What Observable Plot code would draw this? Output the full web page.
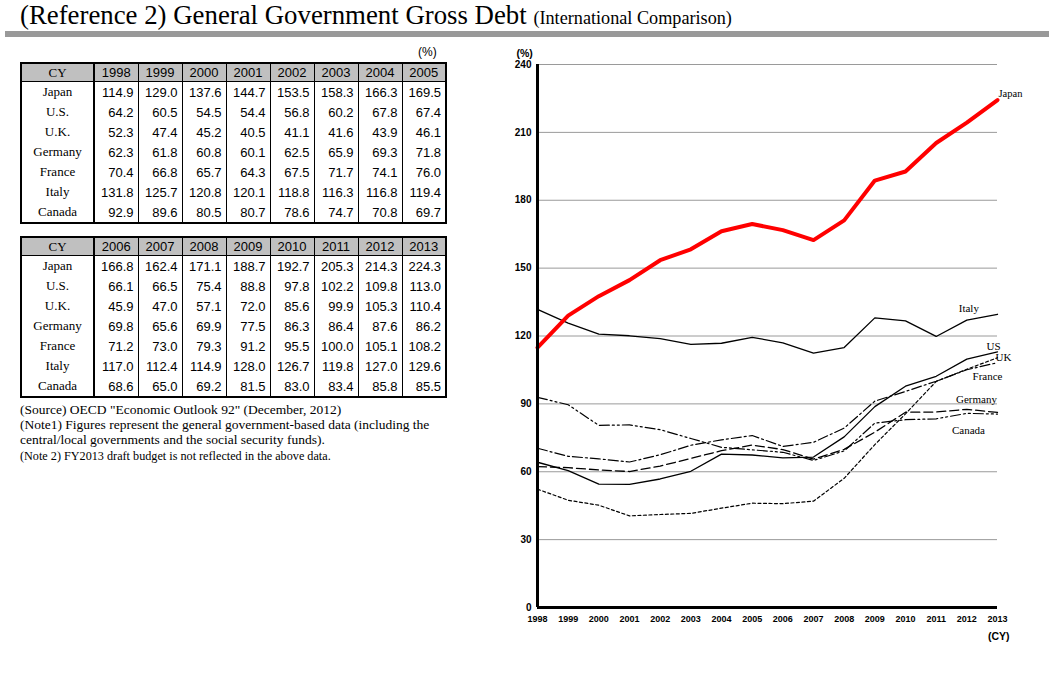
<!DOCTYPE html>
<html><head><meta charset="utf-8">
<script src="https://cdn.jsdelivr.net/npm/d3@7"></script>
<script src="https://cdn.jsdelivr.net/npm/@observablehq/plot@0.6"></script>
<style>
html,body{margin:0;padding:0;background:#fff;}
#page{position:relative;width:1049px;height:677px;overflow:hidden;}
#title{position:absolute;left:20px;top:0px;font-family:"Liberation Serif","Times New Roman",serif;font-size:26.8px;line-height:31px;white-space:nowrap;color:#000;}
#title span{font-size:18.2px;}
#bar{position:absolute;left:5px;top:31px;width:1044px;height:6px;background:#999;}
.pct{position:absolute;font-family:"Liberation Sans",Arial,sans-serif;font-size:12px;}
table.t{position:absolute;left:20px;border-collapse:collapse;table-layout:fixed;border:2px solid #000;}
table.t td,table.t th{padding:0 4px 0 0;font-family:"Liberation Sans",Arial,sans-serif;font-size:13px;font-weight:normal;text-align:right;border-left:1px solid #000;white-space:nowrap;}
table.t th{background:#c0c0c0;height:17px;text-align:center;padding:0;border-bottom:1px solid #000;}
table.t td{height:20px;}
table.t .lab{font-family:"Liberation Serif","Times New Roman",serif;text-align:center;padding:0;border-right:2px solid #000;font-size:13px;}
#notes{position:absolute;left:20px;top:402px;width:420px;font-family:"Liberation Serif","Times New Roman",serif;font-size:13.5px;line-height:15px;}
#notes .n2{font-size:12.2px;margin-top:2px;}
#chart{position:absolute;left:480px;top:40px;}
</style></head>
<body><div id="page">
<div id="title">(Reference 2) General Government Gross Debt <span>(International Comparison)</span></div>
<div id="bar"></div>
<div class="pct" style="left:418px;top:45px;">(%)</div>
<div id="tables"></div>
<div id="notes">
<div>(Source) OECD "Economic Outlook 92" (December, 2012)</div>
<div>(Note1) Figures represent the general government-based data (including the central/local governments and the social security funds).</div>
<div class="n2">(Note 2) FY2013 draft budget is not reflected in the above data.</div>
</div>
<div id="chart"></div>
</div>
<script>
const years = [1998,1999,2000,2001,2002,2003,2004,2005,2006,2007,2008,2009,2010,2011,2012,2013];
const japan   = [114.9,129.0,137.6,144.7,153.5,158.3,166.3,169.5,166.8,162.4,171.1,188.7,192.7,205.3,214.3,224.3];
const us      = [64.2,60.5,54.5,54.4,56.8,60.2,67.8,67.4,66.1,66.5,75.4,88.8,97.8,102.2,109.8,113.0];
const uk      = [52.3,47.4,45.2,40.5,41.1,41.6,43.9,46.1,45.9,47.0,57.1,72.0,85.6,99.9,105.3,110.4];
const germany = [62.3,61.8,60.8,60.1,62.5,65.9,69.3,71.8,69.8,65.6,69.9,77.5,86.3,86.4,87.6,86.2];
const france  = [70.4,66.8,65.7,64.3,67.5,71.7,74.1,76.0,71.2,73.0,79.3,91.2,95.5,100.0,105.1,108.2];
const italy   = [131.8,125.7,120.8,120.1,118.8,116.3,116.8,119.4,117.0,112.4,114.9,128.0,126.7,119.8,127.0,129.6];
const canada  = [92.9,89.6,80.5,80.7,78.6,74.7,70.8,69.7,68.6,65.0,69.2,81.5,83.0,83.4,85.8,85.5];
const tableNames = ["Japan","U.S.","U.K.","Germany","France","Italy","Canada"];
const chartNames = ["Japan","US","UK","Germany","France","Italy","Canada"];
const yTicks = [0,30,60,90,120,150,180,210,240];

const series = [japan, us, uk, germany, france, italy, canada];

// Tables
const tables = document.getElementById("tables");
[[0,8,62],[8,16,236]].forEach(([a,b,top]) => {
  const t = document.createElement("table");
  t.className = "t";
  t.style.top = top + "px";
  let h = '<colgroup><col style="width:73px">' + years.slice(a,b).map(()=>'<col style="width:44px">').join("") + '</colgroup>';
  h += '<tr><th class="lab">CY</th>' + years.slice(a,b).map(y=>`<th>${y}</th>`).join("") + '</tr>';
  tableNames.forEach((n,i) => {
    h += `<tr><td class="lab">${n}</td>` + series[i].slice(a,b).map(v=>`<td>${v.toFixed(1)}</td>`).join("") + '</tr>';
  });
  t.innerHTML = h;
  tables.appendChild(t);
});

// Chart
const rows = (arr) => years.map((y,i) => ({year: y, value: arr[i]}));
const styles = {
  Japan:   {stroke: "#ff0000", strokeWidth: 4, dash: null},
  US:      {stroke: "#000", strokeWidth: 1.3, dash: null},
  UK:      {stroke: "#000", strokeWidth: 1.2, dash: "3,2.5"},
  Germany: {stroke: "#000", strokeWidth: 1.3, dash: "9,4"},
  France:  {stroke: "#000", strokeWidth: 1.2, dash: "10,3,2,3"},
  Italy:   {stroke: "#000", strokeWidth: 1.3, dash: null},
  Canada:  {stroke: "#000", strokeWidth: 1.2, dash: "10,3,2,3,2,3"}
};
const order = ["UK","Canada","Germany","France","US","Italy","Japan"];
const lineMarks = order.map(name => {
  const s = styles[name];
  const opts = {x: "year", y: "value", stroke: s.stroke, strokeWidth: s.strokeWidth};
  if (s.dash) opts.strokeDasharray = s.dash;
  return Plot.line(rows(series[chartNames.indexOf(name)]), opts);
});
const last = (name, idx) => { const arr = series[chartNames.indexOf(name)]; return [{year: years[idx], value: arr[idx], name}]; };
const labelFont = {fontFamily: "Liberation Serif, Times New Roman, serif", fill: "#000"};
const labels = [
  Plot.text(last("Japan",15), {x:"year", y:"value", text:"name", dx:1, dy:-6, textAnchor:"start", fontSize:10.5, ...labelFont}),
  Plot.text(last("Italy",14), {x:"year", y:"value", text:"name", dx:2, dy:-12, fontSize:11, ...labelFont}),
  Plot.text(last("US",15), {x:"year", y:"value", text:"name", dx:-4, dy:-5, fontSize:11, ...labelFont}),
  Plot.text(last("UK",15), {x:"year", y:"value", text:"name", dx:6, dy:0, fontSize:11, ...labelFont}),
  Plot.text(last("France",15), {x:"year", y:"value", text:"name", dx:-10, dy:14, fontSize:11, ...labelFont}),
  Plot.text(last("Germany",15), {x:"year", y:"value", text:"name", dx:-21, dy:-13, fontSize:11, ...labelFont}),
  Plot.text(last("Canada",15), {x:"year", y:"value", text:"name", dx:-29, dy:16, fontSize:11, ...labelFont})
];

const chart = Plot.plot({
  width: 560, height: 620,
  marginLeft: 57, marginRight: 43, marginTop: 24, marginBottom: 53,
  style: {fontFamily: "Liberation Sans, Arial, sans-serif", fontSize: "10px", background: "transparent", color: "#000", overflow: "visible"},
  x: {domain: [1998, 2013], label: null},
  y: {domain: [0, 240], label: null},
  marks: [
    Plot.gridY(yTicks, {stroke: "#9a9a9a", strokeOpacity: 1, strokeWidth: 1}),
    Plot.axisY(yTicks, {tickSize: 0, tickPadding: 6, fontWeight: "bold", fontSize: 10, label: null}),
    Plot.axisX(years, {tickSize: 0, tickPadding: 8, tickFormat: d => String(d), fontWeight: "bold", fontSize: 9, label: null}),
    ...lineMarks,
    Plot.ruleX([1998], {stroke: "#000", strokeWidth: 3}),
    Plot.ruleY([0], {stroke: "#000", strokeWidth: 3}),
    ...labels,
    Plot.text(["(%)"], {frameAnchor: "top-left", dx: -21, dy: -15, textAnchor: "start", fontSize: 10.5, fontWeight: "bold"}),
    Plot.text(["(CY)"], {frameAnchor: "bottom-right", dx: 12, dy: 32, textAnchor: "end", fontSize: 10.5, fontWeight: "bold"})
  ]
});
document.getElementById("chart").appendChild(chart);
</script>
</body></html>
